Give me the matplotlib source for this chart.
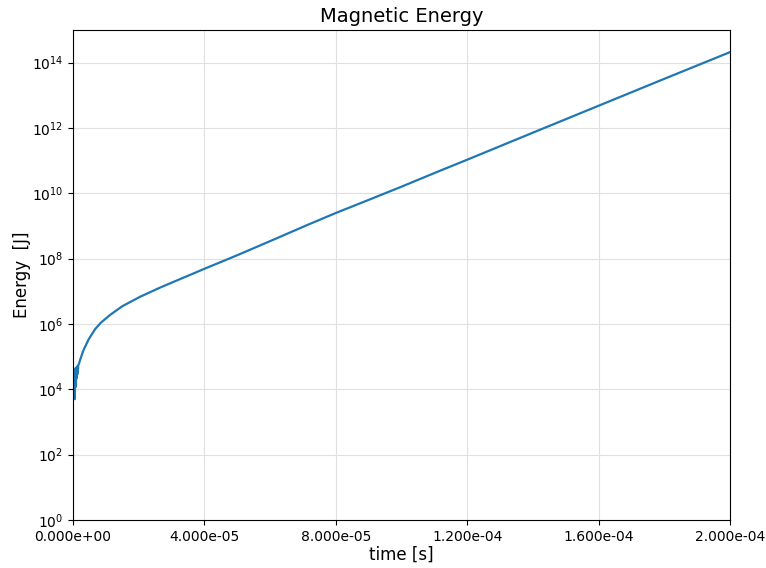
import matplotlib
matplotlib.use("Agg")
import matplotlib.pyplot as plt
from matplotlib.ticker import FormatStrFormatter, NullLocator

# Time samples [s]
time_s = [
    0.0, 1.0e-7, 2.0e-7, 3.0e-7, 4.0e-7, 5.0e-7, 6.0e-7, 7.0e-7, 8.0e-7, 9.0e-7,
    1.0e-6, 1.1e-6, 1.2e-6, 1.3e-6, 1.4e-6, 1.5e-6, 1.6e-6, 1.8e-6, 2.1e-6,
    3.1e-6, 4.7e-6, 6.7e-6, 8.5e-6, 1.13e-5, 1.5e-5, 2.04e-5,
    2.65e-5, 3.16e-5, 3.66e-5, 4.02e-5, 4.58e-5, 5.08e-5, 6.1e-5, 7.11e-5,
    8.0e-5, 9.0e-5, 1.0e-4, 1.117e-4, 1.2e-4, 1.4e-4, 1.6e-4, 1.8e-4, 2.0e-4,
]

# Magnetic energy [J]
energy_J = [
    2.0e4, 7.0e3, 3.5e4, 1.0e4, 4.0e4, 5.0e3, 3.0e4, 1.5e4, 4.5e4, 1.2e4,
    3.8e4, 2.2e4, 5.0e4, 2.8e4, 4.2e4, 3.5e4, 5.5e4, 6.0e4, 7.6e4,
    1.5e5, 3.3e5, 6.9e5, 1.1e6, 1.9e6, 3.5e6, 6.8e6,
    1.3e7, 2.15e7, 3.5e7, 5.0e7, 8.5e7, 1.38e8, 3.8e8, 1.05e9,
    2.5e9, 6.3e9, 1.6e10, 4.9e10, 1.07e11, 7.2e11, 4.8e12, 3.2e13, 2.1e14,
]

x_ticks = [0.0, 4.0e-5, 8.0e-5, 1.2e-4, 1.6e-4, 2.0e-4]

fig = plt.figure(figsize=(7.66, 5.68), dpi=100)
ax = fig.add_axes([73 / 766, 48 / 568, 657 / 766, 490 / 568])

ax.plot(time_s, energy_J, color="#1f77b4", linewidth=1.6)
ax.set_yscale("log")
ax.set_xlim(0.0, 2.0e-4)
ax.set_ylim(1.0, 1.0e15)
ax.set_xticks(x_ticks)
ax.xaxis.set_major_formatter(FormatStrFormatter("%.3e"))
ax.yaxis.set_minor_locator(NullLocator())
ax.grid(True, color="#e0e0e0", linewidth=0.8)
ax.set_axisbelow(True)

ax.set_title("Magnetic Energy", fontsize=14)
ax.set_xlabel("time [s]", fontsize=12, labelpad=1.5)
ax.set_ylabel("Energy  [J]", fontsize=12, labelpad=0.5)

fig.savefig("out.png", dpi=100)
